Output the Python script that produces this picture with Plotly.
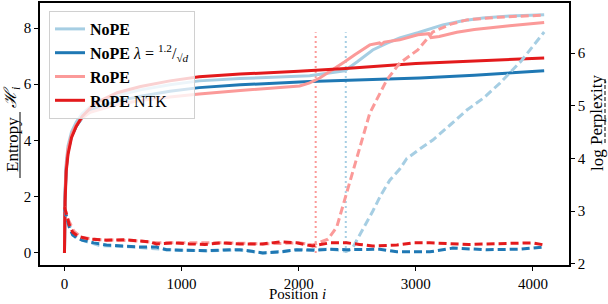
import plotly.graph_objects as go

# ---------------- data ----------------
# Entropy (left axis, solid)
nope_x = [0, 5, 15, 30, 60, 100, 150, 220, 300, 450, 650, 900, 1150, 1500, 2094, 2250, 2393, 2500,
          2632, 2750, 2863, 3017, 3230, 3400, 3573, 3800, 4096]
nope_h = [0, 2.2, 3.2, 3.8, 4.3, 4.65, 4.95, 5.2, 5.4, 5.6, 5.8, 5.98, 6.12, 6.2, 6.3, 6.38, 6.48, 6.8,
          7.22, 7.45, 7.65, 7.83, 8.11, 8.26, 8.36, 8.43, 8.47]

nopel_x = [0, 5, 15, 30, 60, 100, 150, 220, 300, 450, 650, 900, 1150, 1500, 2094, 2500, 3034, 3500, 4096]
nopel_h = [0, 2.0, 3.0, 3.6, 4.15, 4.5, 4.8, 5.05, 5.2, 5.4, 5.57, 5.75, 5.88, 5.98, 6.1, 6.15, 6.22, 6.32, 6.48]

rope_x = [0, 5, 15, 30, 60, 100, 150, 220, 300, 450, 650, 900, 1150, 1500, 2008, 2094, 2180, 2265,
          2393, 2479, 2607, 2690, 2705, 2730, 2863, 3017, 3110, 3130, 3200, 3350, 3500, 3800, 4096]
rope_h = [0, 2.1, 3.1, 3.7, 4.2, 4.55, 4.8, 5.0, 5.1, 5.28, 5.42, 5.55, 5.65, 5.78, 5.94, 6.05, 6.22, 6.44,
          6.8, 7.05, 7.4, 7.47, 7.42, 7.5, 7.58, 7.76, 7.8, 7.66, 7.7, 7.85, 7.95, 8.08, 8.2]

ntk_x = [0, 5, 15, 30, 60, 100, 150, 220, 300, 450, 650, 900, 1150, 1500, 2000, 2400, 3000, 3500, 4096]
ntk_h = [0, 1.8, 2.9, 3.5, 4.1, 4.5, 4.85, 5.15, 5.4, 5.7, 5.92, 6.12, 6.27, 6.36, 6.46, 6.56, 6.74, 6.82, 6.93]

# log Perplexity (right axis, dashed)
nope_px = [0, 30, 80, 150, 300, 600, 870, 1200, 1500, 1700, 2000, 2265, 2410, 2460, 2496, 2560, 2632,
           2700, 2778, 2863, 2923, 3034, 3145, 3300, 3436, 3580, 3718, 3900, 4096]
nope_p = [3.05, 2.8, 2.55, 2.45, 2.35, 2.32, 2.27, 2.25, 2.26, 2.21, 2.27, 2.28, 2.24, 2.3, 2.45, 2.7, 3.0,
          3.3, 3.59, 3.8, 4.0, 4.18, 4.35, 4.65, 4.92, 5.15, 5.43, 5.85, 6.4]

nopel_px = [0, 15, 40, 70, 100, 154, 250, 359, 500, 641, 786, 872, 1000, 1214, 1410, 1496, 1600, 1692,
            1850, 1983, 2120, 2265, 2410, 2547, 2692, 2838, 3000, 3120, 3316, 3450, 3607, 3889, 4096]
nopel_p = [3.05, 2.9, 2.7, 2.55, 2.5, 2.45, 2.4, 2.36, 2.34, 2.32, 2.32, 2.27, 2.26, 2.25, 2.27, 2.27, 2.24,
           2.21, 2.23, 2.27, 2.26, 2.28, 2.27, 2.27, 2.28, 2.23, 2.23, 2.23, 2.3, 2.28, 2.27, 2.28, 2.32]

rope_px = [0, 30, 80, 150, 300, 600, 800, 1000, 1400, 1700, 2000, 2120, 2200, 2250, 2325, 2410, 2496,
           2607, 2752, 2863, 3017, 3145, 3300, 3436, 3700, 4096]
rope_p = [3.08, 2.85, 2.62, 2.5, 2.46, 2.44, 2.4, 2.4, 2.4, 2.38, 2.4, 2.36, 2.42, 2.47, 2.7, 3.35, 3.97,
          4.86, 5.49, 5.81, 6.06, 6.4, 6.55, 6.63, 6.68, 6.72]

ntk_px = [0, 15, 40, 70, 120, 214, 359, 500, 641, 726, 786, 923, 1068, 1200, 1350, 1496, 1692, 1850,
          1983, 2120, 2265, 2410, 2520, 2632, 2838, 2974, 3120, 3316, 3450, 3607, 3800, 4000, 4096]
ntk_p = [3.08, 2.95, 2.75, 2.6, 2.52, 2.47, 2.45, 2.46, 2.44, 2.42, 2.38, 2.4, 2.38, 2.37, 2.4, 2.38, 2.38,
         2.42, 2.4, 2.34, 2.4, 2.4, 2.37, 2.34, 2.36, 2.4, 2.4, 2.38, 2.37, 2.38, 2.39, 2.4, 2.36]

# vertical dotted markers (positions) and their entropy extent
vline_rope_x = 2145
vline_nope_x = 2402
vline_h = [0, 7.85]

x_ticks = [0, 1000, 2000, 3000, 4000]
h_ticks = [0, 2, 4, 6, 8]
p_ticks = [2, 3, 4, 5, 6]

# ---------------- style ----------------
C_NOPE = "#a6cee3"
C_NOPEL = "#1f78b4"
C_ROPE = "#fb9a99"
C_NTK = "#e31a1c"
FONT = "Liberation Serif"
LW = 3
DASH = "8px,4px"

fig = go.Figure()

series = [
    ("<b>NoPE</b>", C_NOPE, nope_x, nope_h, nope_px, nope_p),
    ("<b>NoPE</b> <i>λ</i> = <sup>1.2</sup>/<sub>√<i>d</i></sub>", C_NOPEL, nopel_x, nopel_h, nopel_px, nopel_p),
    ("<b>RoPE</b>", C_ROPE, rope_x, rope_h, rope_px, rope_p),
    ("<b>RoPE</b> NTK", C_NTK, ntk_x, ntk_h, ntk_px, ntk_p),
]

# vertical dotted lines
fig.add_trace(go.Scatter(x=[vline_rope_x, vline_rope_x], y=vline_h, mode="lines", yaxis="y",
                         line=dict(color=C_ROPE, width=2, dash="2px,3px"), showlegend=False, hoverinfo="skip"))
fig.add_trace(go.Scatter(x=[vline_nope_x, vline_nope_x], y=vline_h, mode="lines", yaxis="y",
                         line=dict(color=C_NOPE, width=2, dash="2px,3px"), showlegend=False, hoverinfo="skip"))

for name, col, hx, hy, px, py in series:
    fig.add_trace(go.Scatter(x=hx, y=hy, mode="lines", name=name, yaxis="y",
                             line=dict(color=col, width=LW)))
    fig.add_trace(go.Scatter(x=px, y=py, mode="lines", name=name, yaxis="y2", showlegend=False,
                             line=dict(color=col, width=LW, dash=DASH)))

W, H = 608, 304
ml, mr, mt, mb = 40, 39, 3, 39
pw, ph = W - ml - mr, H - mt - mb


def px2x(p):
    return (p - ml) / pw


def px2y(p):
    return (H - mb - p) / ph


axis_common = dict(showgrid=False, zeroline=False, showline=True, linecolor="black", linewidth=1.5,
                   ticks="outside", ticklen=4, tickwidth=1, tickcolor="black", automargin=False,
                   tickfont=dict(family=FONT, size=15, color="black"))

fig.update_layout(
    width=W, height=H, autosize=False,
    margin=dict(l=ml, r=mr, t=mt, b=mb, autoexpand=False),
    paper_bgcolor="white", plot_bgcolor="white",
    font=dict(family=FONT, size=15, color="black"),
    xaxis=dict(range=[-209, 4308], tickvals=x_ticks, mirror=True, **axis_common),
    yaxis=dict(range=[-0.43, 8.89], tickvals=h_ticks, **axis_common),
    yaxis2=dict(range=[1.98, 6.95], tickvals=p_ticks, overlaying="y", side="right", **axis_common),
    legend=dict(x=px2x(49), y=px2y(11), xanchor="left", yanchor="top",
                bgcolor="rgba(255,255,255,0.8)", bordercolor="#d0d0d0", borderwidth=1,
                font=dict(family=FONT, size=16, color="black"), tracegroupgap=0),
    showlegend=True,
)

TF = dict(family=FONT, size=17, color="black")
# axis titles (split so each word lines up with its line-style key)
fig.add_annotation(text="Entropy", textangle=-90, xref="paper", yref="paper",
                   x=px2x(12), y=px2y(145), xanchor="center", yanchor="middle", showarrow=False, font=TF)
fig.add_annotation(text="<i>ℋ</i><sub><i>i</i></sub>", textangle=-90, xref="paper", yref="paper",
                   x=px2x(12), y=px2y(97), xanchor="center", yanchor="middle", showarrow=False, font=TF)
fig.add_annotation(text="Perplexity", textangle=-90, xref="paper", yref="paper",
                   x=px2x(597), y=px2y(110), xanchor="center", yanchor="middle", showarrow=False, font=TF)
fig.add_annotation(text="log", textangle=-90, xref="paper", yref="paper",
                   x=px2x(597), y=px2y(160), xanchor="center", yanchor="middle", showarrow=False, font=TF)
fig.add_annotation(text="Position <i>i</i>", xref="paper", yref="paper", x=px2x(297), y=px2y(304),
                   xanchor="center", yanchor="bottom", showarrow=False,
                   font=dict(family=FONT, size=15, color="black"))

# line-style keys under the axis titles
fig.add_shape(type="line", xref="paper", yref="paper", x0=px2x(20), x1=px2x(20),
              y0=px2y(178), y1=px2y(112), line=dict(color="black", width=1))
fig.add_shape(type="line", xref="paper", yref="paper", x0=px2x(605), x1=px2x(605),
              y0=px2y(143), y1=px2y(78), line=dict(color="black", width=1, dash="4px,2px"))

fig.write_html("out.html", config={"displayModeBar": False},
               post_script="document.body.style.margin='0px';")
